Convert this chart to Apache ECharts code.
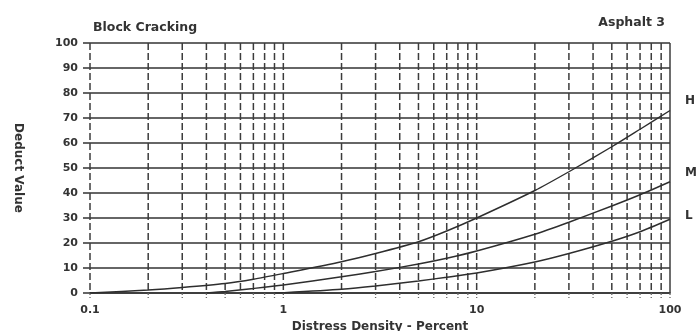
<!DOCTYPE html>
<html>
<head>
<meta charset="utf-8">
<script src="https://cdn.jsdelivr.net/npm/echarts@6/dist/echarts.min.js"></script>
<style>
  html, body { margin: 0; padding: 0; background: #fff; }
  #chart { width: 697px; height: 331px; }
</style>
</head>
<body>
<div id="chart"></div>
<script>
// Deduct value curves for block cracking, by severity level
const densityH = [0.1, 0.2, 0.3, 0.5, 0.7, 1, 2, 3, 5, 7, 10, 20, 30, 50, 70, 100];
const deductH  = [0, 1.2, 2.2, 3.8, 5.5, 7.8, 12.5, 15.8, 20.5, 24.8, 30, 41, 48.5, 58.5, 65.5, 73];

const densityM = [0.4, 0.5, 0.7, 1, 2, 3, 5, 7, 10, 20, 30, 50, 70, 100];
const deductM  = [0, 0.6, 1.8, 3.2, 6.5, 8.6, 11.6, 13.9, 16.8, 23.5, 28.3, 34.8, 39.3, 44.5];

const densityL = [0.9, 1, 2, 3, 5, 7, 10, 20, 30, 50, 70, 100];
const deductL  = [0, 0.1, 1.5, 2.8, 4.8, 6.3, 8, 12.4, 15.8, 20.7, 24.5, 29.5];

const severityNames = ['H', 'M', 'L'];

// Log-paper vertical rulings
const rulingDensities = [
  0.1, 0.2, 0.3, 0.4, 0.5, 0.6, 0.7, 0.8, 0.9,
  1, 2, 3, 4, 5, 6, 7, 8, 9,
  10, 20, 30, 40, 50, 60, 70, 80, 90, 100
];

const ink = '#333';
const labelFont = { color: ink, fontFamily: 'DejaVu Sans', fontWeight: 'bold', fontSize: 11 };

function pairs(xs, ys) { return xs.map((x, i) => [x, ys[i]]); }

function curve(name, xs, ys, dy) {
  return {
    name, type: 'line',
    data: pairs(xs, ys),
    showSymbol: false,
    smooth: 0.25,
    lineStyle: { color: '#2e2e2e', width: 1.4 },
    z: 3,
    endLabel: {
      show: true, formatter: name, distance: 15, offset: [0, dy],
      color: ink, fontFamily: 'DejaVu Sans', fontWeight: 'bold', fontSize: 12
    }
  };
}

const chart = echarts.init(document.getElementById('chart'), null, { renderer: 'canvas' });
chart.setOption({
  animation: false,
  backgroundColor: '#fff',
  title: [
    { text: 'Block Cracking', left: 88, top: 16,
      textStyle: { color: ink, fontFamily: 'DejaVu Sans', fontWeight: 'bold', fontSize: 12.5 } },
    { text: 'Asphalt 3', right: 27, top: 11,
      textStyle: { color: ink, fontFamily: 'DejaVu Sans', fontWeight: 'bold', fontSize: 12.5 } }
  ],
  grid: { left: 90, right: 27, top: 43, bottom: 38, outerBoundsMode: 'none' },
  xAxis: {
    type: 'log', logBase: 10, min: 0.1, max: 100,
    name: 'Distress Density - Percent', nameLocation: 'middle', nameGap: 23,
    nameTextStyle: { color: ink, fontFamily: 'DejaVu Sans', fontWeight: 'bold', fontSize: 12 },
    axisLine: { show: true, lineStyle: { color: ink, width: 1.5 } },
    axisTick: { show: false },
    splitLine: { show: false },
    axisLabel: Object.assign({ margin: 12, formatter: v => String(v) }, labelFont)
  },
  yAxis: {
    type: 'value', min: 0, max: 100, interval: 10,
    name: 'Deduct Value', nameLocation: 'middle', nameGap: 66, nameRotate: -90,
    nameTextStyle: { color: ink, fontFamily: 'DejaVu Sans', fontWeight: 'bold', fontSize: 12 },
    axisLine: { show: false },
    axisTick: { show: true, length: 7, lineStyle: { color: ink, width: 1.5 } },
    splitLine: { show: true, lineStyle: { color: ink, width: 1.5 } },
    axisLabel: Object.assign({ margin: 12 }, labelFont)
  },
  series: [
    {
      type: 'custom',
      data: rulingDensities.map(v => [v, 0]),
      encode: { x: 0, y: 1 },
      clip: false, silent: true, z: 1,
      renderItem(params, api) {
        const x = api.value(0);
        const top = api.coord([x, 100]);
        const bot = api.coord([x, 0]);
        const solid = x === 100;
        return {
          type: 'group',
          children: [
            { type: 'line',
              shape: { x1: top[0], y1: top[1], x2: bot[0], y2: bot[1] },
              style: { stroke: '#3c3c3c', lineWidth: 1.5, lineDash: solid ? null : [7, 3] } },
            { type: 'line',
              shape: { x1: bot[0], y1: bot[1], x2: bot[0], y2: bot[1] + 5 },
              style: { stroke: '#666', lineWidth: 1.3, lineDash: [2, 2] } }
          ]
        };
      }
    },
    curve(severityNames[0], densityH, deductH, -10),
    curve(severityNames[1], densityM, deductM, -9),
    curve(severityNames[2], densityL, deductL, -3)
  ]
});
</script>
</body>
</html>
